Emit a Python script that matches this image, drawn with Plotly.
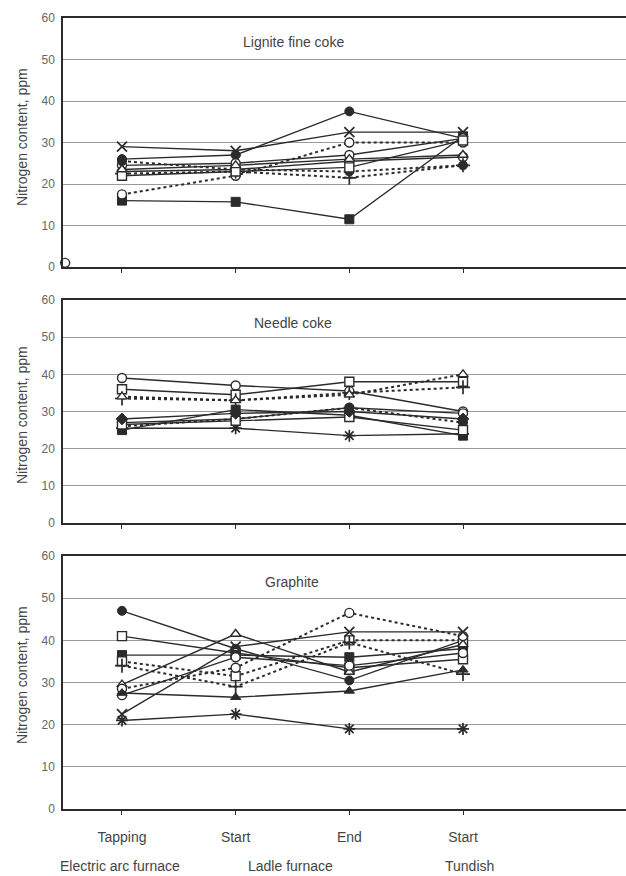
import plotly.graph_objects as go

W, H = 626, 876
L_M = 63

stages = [0, 1, 2, 3]
tick_labels = ["Tapping", "Start", "End", "Start"]
group_labels = ["Electric arc furnace", "Ladle furnace", "Tundish"]
panel_titles = ["Lignite fine coke", "Needle coke", "Graphite"]
y_ticks = [0, 10, 20, 30, 40, 50, 60]

# Lignite fine coke series (ppm at Tapping, LF start, LF end, Tundish start)
lignite_values = [
    [26.0, 27.0, 37.5, 31.0],
    [29.0, 28.0, 32.5, 32.5],
    [16.0, 15.7, 11.5, 31.5],
    [17.5, 22.0, 30.0, 30.0],
    [24.5, 25.0, 27.0, 31.0],
    [23.0, 23.5, 25.5, 26.5],
    [25.5, 23.5, 23.0, 24.5],
    [22.5, 23.0, 21.5, 24.5],
    [22.0, 23.0, 24.0, 30.5],
    [23.5, 24.5, 26.0, 27.0],
]
lignite_stray_x = [-0.5]
lignite_stray_y = [1.0]

# Needle coke series
needle_values = [
    [39.0, 37.0, 35.5, 30.0],
    [36.0, 34.5, 38.0, 38.0],
    [33.5, 33.0, 35.0, 36.5],
    [34.0, 33.0, 34.5, 40.0],
    [25.0, 30.5, 29.0, 23.5],
    [27.0, 28.0, 31.0, 29.5],
    [26.0, 28.0, 31.0, 27.0],
    [25.5, 25.5, 23.5, 24.0],
    [26.5, 27.5, 28.5, 25.0],
    [28.0, 29.5, 30.0, 28.0],
]

# Graphite series
graphite_values = [
    [47.0, 38.0, 30.5, 40.0],
    [41.0, 37.0, 33.5, 35.5],
    [36.5, 36.5, 36.0, 38.0],
    [35.0, 31.5, 40.0, 40.0],
    [29.5, 41.5, 32.5, 39.0],
    [28.5, 33.5, 46.5, 41.0],
    [27.0, 36.0, 34.0, 37.0],
    [22.5, 38.5, 42.0, 42.0],
    [21.0, 22.5, 19.0, 19.0],
    [34.0, 29.0, 39.5, 32.0],
    [27.5, 26.5, 28.0, 33.0],
]

# styles (kept separate from data)
lignite_style = [
    ("circle", "fill", "solid"), ("x-thin-open", "line", "solid"),
    ("square", "fill", "solid"), ("circle", "open", "dot"),
    ("circle", "open", "solid"), ("circle", "open", "solid"),
    ("circle", "fill", "dot"), ("cross-thin-open", "line", "dot"),
    ("square", "open", "solid"), ("triangle-up", "open", "solid"),
]
needle_style = [
    ("circle", "open", "solid"), ("square", "open", "solid"),
    ("cross-thin-open", "line", "dot"), ("triangle-up", "open", "dot"),
    ("square", "fill", "solid"), ("circle", "open", "solid"),
    ("circle", "fill", "dot"), ("asterisk-open", "line", "solid"),
    ("square", "open", "solid"), ("diamond", "fill", "solid"),
]
graphite_style = [
    ("circle", "fill", "solid"), ("square", "open", "solid"),
    ("square", "fill", "solid"), ("square", "open", "dot"),
    ("triangle-up", "open", "solid"), ("circle", "open", "dot"),
    ("circle", "open", "solid"), ("x-thin-open", "line", "solid"),
    ("asterisk-open", "line", "solid"), ("cross-thin-open", "line", "dot"),
    ("triangle-up", "fill", "solid"),
]

INK = "#2b2b2b"
GRID = "#9a9a9a"
LABEL = "#555555"

# panel geometry in pixels: (top y=60, bottom y=0)
panels_px = [(18, 267), (300, 523), (556, 809)]


def py2paper(py):
    return 1 - py / H


def px2paper(px):
    return (px - L_M) / (W - L_M)


fig = go.Figure()

all_values = [lignite_values, needle_values, graphite_values]
all_styles = [lignite_style, needle_style, graphite_style]

for p, (vals, styles) in enumerate(zip(all_values, all_styles)):
    ax = "" if p == 0 else str(p + 1)
    for v, (sym, fillmode, dash) in zip(vals, styles):
        if fillmode == "fill":
            marker = dict(symbol=sym, size=9, color=INK, line=dict(color=INK, width=1))
        elif fillmode == "open":
            marker = dict(symbol=sym, size=9, color="white", line=dict(color=INK, width=1.4))
        else:
            marker = dict(symbol=sym, size=10, color=INK, line=dict(color=INK, width=1.7))
        fig.add_trace(go.Scatter(
            x=stages, y=v, mode="lines+markers", xaxis="x" + ax, yaxis="y" + ax,
            line=dict(color=INK, width=2 if dash == "dot" else 1.4, dash=dash),
            marker=marker, showlegend=False, cliponaxis=False,
        ))

fig.add_trace(go.Scatter(
    x=lignite_stray_x, y=lignite_stray_y, mode="markers", xaxis="x", yaxis="y",
    marker=dict(symbol="circle", size=9, color="white", line=dict(color=INK, width=1.4)),
    showlegend=False, cliponaxis=False,
))

layout = dict(
    width=W, height=H, margin=dict(l=L_M, r=0, t=0, b=0),
    paper_bgcolor="white", plot_bgcolor="white",
    font=dict(family="Liberation Sans, Arial, sans-serif", color=LABEL),
)

for p, (top, bot) in enumerate(panels_px):
    ax = "" if p == 0 else str(p + 1)
    layout["xaxis" + ax] = dict(
        domain=[0, 1], range=[-0.519, 4.434], anchor="y" + ax,
        tickmode="array", tickvals=stages,
        ticktext=tick_labels if p == 2 else ["", "", "", ""],
        showticklabels=(p == 2), ticks="outside", ticklen=4, tickwidth=1.2,
        tickcolor=INK, showline=True, mirror=True, linecolor=INK, linewidth=1.8,
        showgrid=False, zeroline=False, automargin=False,
        tickfont=dict(size=14, color="#444"), ticklabelstandoff=10,
    )
    layout["yaxis" + ax] = dict(
        domain=[py2paper(bot), py2paper(top)], range=[0, 60], anchor="x" + ax,
        tickmode="array", tickvals=y_ticks, showline=True, mirror=False,
        linecolor=INK, linewidth=1.5, showgrid=True, gridcolor=GRID, gridwidth=1,
        zeroline=False, ticks="", automargin=False,
        tickfont=dict(size=12, color="#666"), ticklabelstandoff=4,
    )

annotations = []
title_pos = [(293, 42), (293, 323), (292, 582)]
ytitle_y = [137, 415, 675]
for p in range(3):
    annotations.append(dict(
        text=panel_titles[p], xref="paper", yref="paper",
        x=px2paper(title_pos[p][0]), y=py2paper(title_pos[p][1]),
        showarrow=False, xanchor="center", yanchor="middle",
        font=dict(size=14, color="#444"),
    ))
    annotations.append(dict(
        text="Nitrogen content, ppm", xref="paper", yref="paper",
        x=px2paper(22), y=py2paper(ytitle_y[p]), textangle=-90,
        showarrow=False, xanchor="center", yanchor="middle",
        font=dict(size=14, color="#444"),
    ))

group_x = [120, 290, 469]
for gx, gl in zip(group_x, group_labels):
    annotations.append(dict(
        text=gl, xref="paper", yref="paper", x=px2paper(gx), y=py2paper(866),
        showarrow=False, xanchor="center", yanchor="middle",
        font=dict(size=14, color="#444"),
    ))

layout["annotations"] = annotations
fig.update_layout(**layout)
fig.write_html(
    "out.html",
    config={"displayModeBar": False},
    post_script="document.body.style.margin='0';document.body.style.overflow='hidden';"
                "document.documentElement.style.overflow='hidden';",
)
